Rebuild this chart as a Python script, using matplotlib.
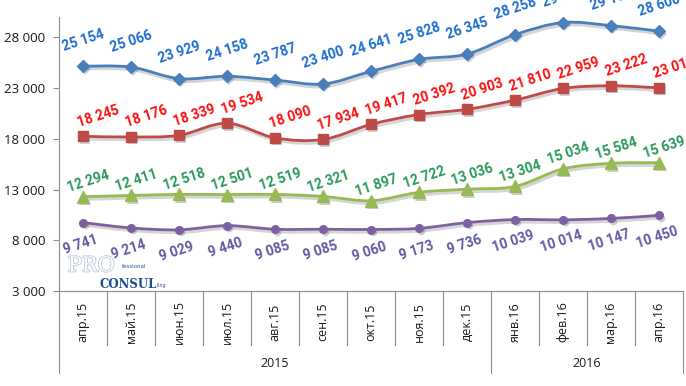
import numpy as np
import matplotlib
matplotlib.use("Agg")
import matplotlib.pyplot as plt
from matplotlib.path import Path
from matplotlib.patches import PathPatch
import matplotlib.patheffects as pe
import matplotlib.transforms as mtransforms

months = ["апр.15", "май.15", "июн.15", "июл.15", "авг.15", "сен.15", "окт.15",
          "ноя.15", "дек.15", "янв.16", "фев.16", "мар.16", "апр.16"]
years = ["2015", "2016"]
year_counts = [9, 4]

blue_vals = [25154, 25066, 23929, 24158, 23787, 23400, 24641, 25828, 26345, 28258, 29455, 29150, 28600]
red_vals = [18245, 18176, 18339, 19534, 18090, 17934, 19417, 20392, 20903, 21810, 22959, 23222, 23013]
green_vals = [12294, 12411, 12518, 12501, 12519, 12321, 11897, 12722, 13036, 13304, 15034, 15584, 15639]
purple_vals = [9741, 9214, 9029, 9440, 9085, 9085, 9060, 9173, 9736, 10039, 10014, 10147, 10450]

yticks = [3000, 8000, 13000, 18000, 23000, 28000]

# (values, line colour, label colour, marker, marker size, label offset px)
series = [
    (blue_vals, "#4a7ebb", "#1f6fd0", "D", 6, (0, 26)),
    (red_vals, "#be4b48", "#ff1010", "s", 7.5, (15, 20)),
    (green_vals, "#98b954", "#2a9a5a", "^", 8, (5, 15)),
    (purple_vals, "#7d60a0", "#645aa0", "o", 5.5, (-2, -22)),
]


def fmt(v):
    return "{:,}".format(v).replace(",", " ")


def smooth_path(x, y):
    # Excel-style smoothed line: cubic Bezier segments (Catmull-Rom control points)
    pts = np.column_stack([x, y]).astype(float)
    n = len(pts)
    verts = [pts[0]]
    codes = [Path.MOVETO]
    for i in range(n - 1):
        p0 = pts[i - 1] if i > 0 else pts[i]
        p1 = pts[i]
        p2 = pts[i + 1]
        p3 = pts[i + 2] if i + 2 < n else pts[i + 1]
        c1 = p1 + (p2 - p0) / 6.0
        c2 = p2 - (p3 - p1) / 6.0
        verts += [c1, c2, p2]
        codes += [Path.CURVE4] * 3
    return Path(verts, codes)


fig = plt.figure(figsize=(6.86, 3.86), dpi=100)
ax = fig.add_axes([59 / 686, 1 - 291 / 386, 624 / 686, 274 / 386])
ax.set_xlim(-0.5, len(months) - 0.5)
ax.set_ylim(3000, 30000)

for s in ["top", "right"]:
    ax.spines[s].set_visible(False)
for s in ["left", "bottom"]:
    ax.spines[s].set_color("#8c8c8c")
    ax.spines[s].set_linewidth(0.8)

ax.set_yticks(yticks)
ax.set_yticklabels([fmt(v) for v in yticks], fontfamily="Open Sans", fontsize=9.5, color="#1a1a1a")
ax.tick_params(axis="y", direction="out", length=4, color="#8c8c8c", pad=6)
ax.set_xticks([])

x = np.arange(len(months))
shadow_tr = mtransforms.offset_copy(ax.transData, fig=fig, x=1.5, y=-2.5, units="dots")

for vals, lc, tc, mk, ms, off in series:
    path = smooth_path(x, vals)
    ax.add_patch(PathPatch(path, fill=False, edgecolor="#404040", alpha=0.22, linewidth=2.4,
                           transform=shadow_tr, zorder=1.5))
    ax.add_patch(PathPatch(path, fill=False, edgecolor=lc, linewidth=2.0,
                           capstyle="round", joinstyle="round", zorder=2))
    ax.plot(x, vals, linestyle="none", marker=mk, markersize=ms, color="#404040",
            alpha=0.25, markeredgewidth=0, transform=shadow_tr, zorder=1.6)
    ax.plot(x, vals, linestyle="none", marker=mk, markersize=ms, color=lc,
            markeredgecolor=lc, zorder=3)
    for xi, v in zip(x, vals):
        ax.annotate(fmt(v), (xi, v), xytext=off, textcoords="offset pixels",
                    ha="center", va="center", rotation=18, color=tc,
                    fontsize=10, fontweight="bold", fontfamily=["Roboto", "DejaVu Sans"],
                    annotation_clip=False, zorder=4)

# category table under the axis
trans = mtransforms.blended_transform_factory(ax.transData, ax.transAxes)
bounds = [0]
for c in year_counts:
    bounds.append(bounds[-1] + c)
for i in range(len(months) + 1):
    xb = i - 0.5
    low = -0.30 if i in bounds else -0.197
    ax.plot([xb, xb], [0, low], transform=trans, color="#8c8c8c", lw=0.8, clip_on=False)
for i, m in enumerate(months):
    ax.text(i, -0.113, m, transform=trans, rotation=90, ha="center", va="center",
            fontsize=9, fontfamily="Open Sans", color="#1a1a1a")
for k, yr in enumerate(years):
    xc = (bounds[k] + bounds[k + 1] - 1) / 2
    ax.text(xc, -0.263, yr, transform=trans, ha="center", va="center",
            fontsize=9, fontfamily="Open Sans", color="#1a1a1a")

# watermark logo
fig.text(68 / 686, 1 - 266 / 386, "PRO", fontsize=15, fontfamily="DejaVu Serif",
         color="white", ha="left", va="center",
         path_effects=[pe.withStroke(linewidth=1.2, foreground="#b8c8dc")])
fig.text(122 / 686, 1 - 266 / 386, "fessional", fontsize=4, color="#2a5a95",
         ha="left", va="center")
fig.text(100 / 686, 1 - 284 / 386, "CONSUL", fontsize=8.5, fontweight="bold",
         fontfamily="DejaVu Serif", color="#1d4f8c", ha="left", va="center")
fig.text(157 / 686, 1 - 286 / 386, "ting", fontsize=3.5, color="#2a5a95",
         ha="left", va="center")

fig.savefig("out.png", dpi=100)
plt.close(fig)
